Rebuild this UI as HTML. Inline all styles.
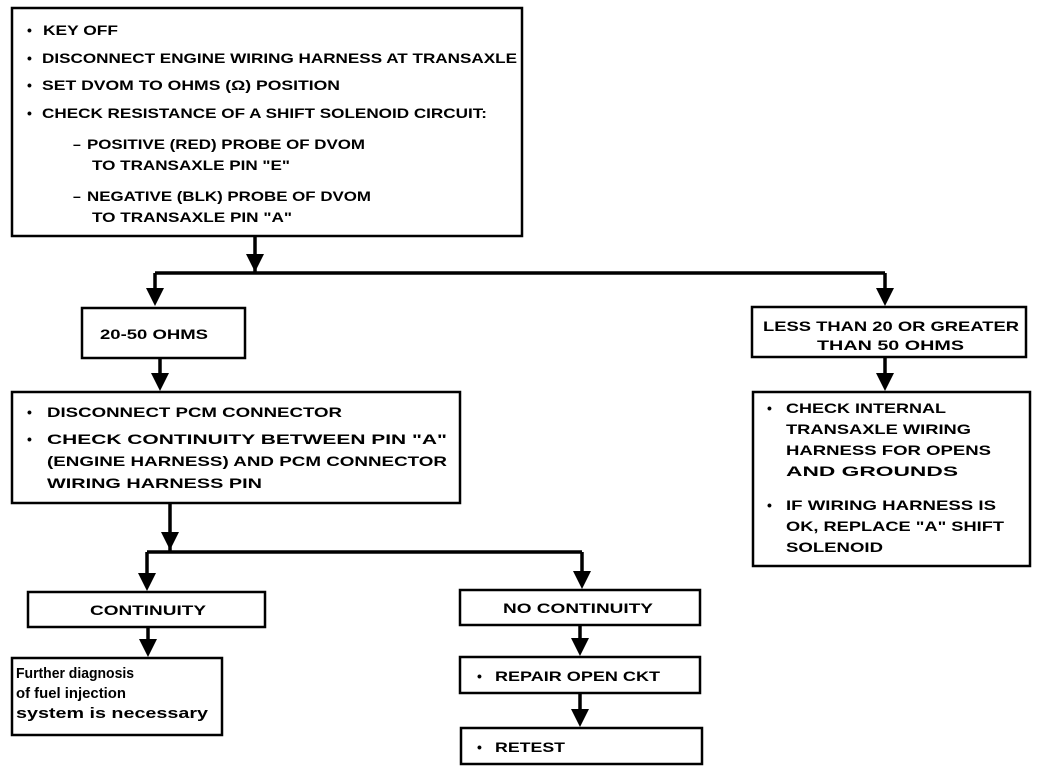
<!DOCTYPE html>
<html><head><meta charset="utf-8"><style>
html,body{margin:0;padding:0;background:#fff;}
svg{display:block;}
text{font-family:"Liberation Sans",sans-serif;font-size:14px;font-weight:bold;fill:#000;}
</style></head><body>
<svg width="1056" height="782" viewBox="0 0 1056 782" xmlns="http://www.w3.org/2000/svg">
<g fill="none" stroke="#000" stroke-width="2.5">
<rect x="12" y="8" width="510" height="228"/>
<rect x="82" y="308" width="163" height="50"/>
<rect x="12" y="392" width="448" height="111"/>
<rect x="752" y="307" width="274" height="50"/>
<rect x="753" y="392" width="277" height="174"/>
<rect x="28" y="592" width="237" height="35"/>
<rect x="460" y="590" width="240" height="35"/>
<rect x="12" y="658" width="210" height="77"/>
<rect x="460" y="657" width="240" height="36"/>
<rect x="461" y="728" width="241" height="36"/>
</g>
<g fill="none" stroke="#000" stroke-width="3.5">
<path d="M255 236 V273 M155 273 H885 M155 273 V300 M885 273 V300"/>
<path d="M160 358 V385 M885 357 V385"/>
<path d="M170 503 V552 M147 552 H582 M147 552 V585 M582 552 V583"/>
<path d="M148 627 V651 M580 625 V650 M580 693 V721"/>
</g>
<g fill="#000">
<path d="M246 254 L264 254 L255 272Z"/>
<path d="M146 288 L164 288 L155 306Z"/>
<path d="M876 288 L894 288 L885 306Z"/>
<path d="M151 373 L169 373 L160 391Z"/>
<path d="M876 373 L894 373 L885 391Z"/>
<path d="M161 532 L179 532 L170 550Z"/>
<path d="M138 573 L156 573 L147 591Z"/>
<path d="M573 571 L591 571 L582 589Z"/>
<path d="M139 639 L157 639 L148 657Z"/>
<path d="M571 638 L589 638 L580 656Z"/>
<path d="M571 709 L589 709 L580 727Z"/>
</g>
<text x="27" y="35">•</text><text x="43" y="35" textLength="75" lengthAdjust="spacingAndGlyphs">KEY OFF</text>
<text x="27" y="63">•</text><text x="42" y="63" textLength="475" lengthAdjust="spacingAndGlyphs">DISCONNECT ENGINE WIRING HARNESS AT TRANSAXLE</text>
<text x="27" y="90">•</text><text x="42" y="90" textLength="298" lengthAdjust="spacingAndGlyphs">SET DVOM TO OHMS (Ω) POSITION</text>
<text x="27" y="118">•</text><text x="42" y="118" textLength="445" lengthAdjust="spacingAndGlyphs">CHECK RESISTANCE OF A SHIFT SOLENOID CIRCUIT:</text>
<text x="73" y="149">–</text><text x="87" y="149" textLength="278" lengthAdjust="spacingAndGlyphs">POSITIVE (RED) PROBE OF DVOM</text>
<text x="92" y="170" textLength="198" lengthAdjust="spacingAndGlyphs">TO TRANSAXLE PIN "E"</text>
<text x="73" y="201">–</text><text x="87" y="201" textLength="284" lengthAdjust="spacingAndGlyphs">NEGATIVE (BLK) PROBE OF DVOM</text>
<text x="92" y="222" textLength="200" lengthAdjust="spacingAndGlyphs">TO TRANSAXLE PIN "A"</text>
<text x="100" y="339" textLength="108" lengthAdjust="spacingAndGlyphs">20-50 OHMS</text>
<text x="27" y="417">•</text><text x="47" y="417" textLength="295" lengthAdjust="spacingAndGlyphs">DISCONNECT PCM CONNECTOR</text>
<text x="27" y="444">•</text><text x="47" y="444" textLength="400" lengthAdjust="spacingAndGlyphs">CHECK CONTINUITY BETWEEN PIN "A"</text>
<text x="47" y="466" textLength="400" lengthAdjust="spacingAndGlyphs">(ENGINE HARNESS) AND PCM CONNECTOR</text>
<text x="47" y="488" textLength="215" lengthAdjust="spacingAndGlyphs">WIRING HARNESS PIN</text>
<text x="763" y="331" textLength="256" lengthAdjust="spacingAndGlyphs">LESS THAN 20 OR GREATER</text>
<text x="817" y="350" textLength="147" lengthAdjust="spacingAndGlyphs">THAN 50 OHMS</text>
<text x="767" y="413">•</text><text x="786" y="413" textLength="160" lengthAdjust="spacingAndGlyphs">CHECK INTERNAL</text>
<text x="786" y="434" textLength="185" lengthAdjust="spacingAndGlyphs">TRANSAXLE WIRING</text>
<text x="786" y="455" textLength="205" lengthAdjust="spacingAndGlyphs">HARNESS FOR OPENS</text>
<text x="786" y="476" textLength="172" lengthAdjust="spacingAndGlyphs">AND GROUNDS</text>
<text x="767" y="510">•</text><text x="786" y="510" textLength="210" lengthAdjust="spacingAndGlyphs">IF WIRING HARNESS IS</text>
<text x="786" y="531" textLength="218" lengthAdjust="spacingAndGlyphs">OK, REPLACE "A" SHIFT</text>
<text x="786" y="552" textLength="97" lengthAdjust="spacingAndGlyphs">SOLENOID</text>
<text x="90" y="615" textLength="116" lengthAdjust="spacingAndGlyphs">CONTINUITY</text>
<text x="503" y="613" textLength="150" lengthAdjust="spacingAndGlyphs">NO CONTINUITY</text>
<text x="16" y="678" style="font-size:15px" textLength="118" lengthAdjust="spacingAndGlyphs">Further diagnosis</text>
<text x="16" y="698" style="font-size:15px" textLength="110" lengthAdjust="spacingAndGlyphs">of fuel injection</text>
<text x="16" y="718" style="font-size:15px" textLength="192" lengthAdjust="spacingAndGlyphs">system is necessary</text>
<text x="477" y="681">•</text><text x="495" y="681" textLength="165" lengthAdjust="spacingAndGlyphs">REPAIR OPEN CKT</text>
<text x="477" y="752">•</text><text x="495" y="752" textLength="70" lengthAdjust="spacingAndGlyphs">RETEST</text>
</svg>
</body></html>
